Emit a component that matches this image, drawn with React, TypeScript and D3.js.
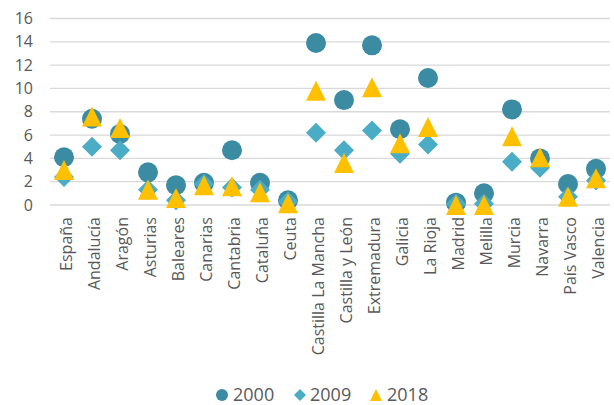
import React from 'react';
import { scaleBand, scaleLinear } from 'd3';

const categories = [
  'España', 'Andalucía', 'Aragón', 'Asturias', 'Baleares', 'Canarias', 'Cantabria',
  'Cataluña', 'Ceuta', 'Castilla La Mancha', 'Castilla y León', 'Extremadura', 'Galicia',
  'La Rioja', 'Madrid', 'Melilla', 'Murcia', 'Navarra', 'País Vasco', 'Valencia',
];

const values2000 = [4.1, 7.4, 6.1, 2.8, 1.7, 1.9, 4.7, 1.9, 0.4, 13.9, 9.0, 13.7, 6.5, 10.9, 0.2, 1.0, 8.2, 4.0, 1.8, 3.1];
const values2009 = [2.4, 5.0, 4.7, 1.3, 0.4, 1.8, 1.5, 1.3, 0.3, 6.2, 4.7, 6.4, 4.4, 5.2, 0.1, 0.1, 3.7, 3.2, 0.7, 2.1];
const values2018 = [3.0, 7.6, 6.6, 1.3, 0.6, 1.7, 1.6, 1.1, 0.15, 9.8, 3.6, 10.1, 5.3, 6.7, 0.0, 0.0, 5.9, 4.1, 0.7, 2.3];

const yTicks = [0, 2, 4, 6, 8, 10, 12, 14, 16];

const seriesNames = ['2000', '2009', '2018'];
const seriesColors = ['#3B8BA3', '#4BACC6', '#FFC000'];

const font = '"Open Sans", sans-serif';
const textColor = '#595959';

const x = scaleBand<string>().domain(categories).range([50, 610]);
const y = scaleLinear().domain([0, 16]).range([205, 18.5]);

// marker shapes, s = half size
const triangle = (s: number) => `M0,${-s}L${s},${s}L${-s},${s}Z`;
const diamond = (s: number) => `M0,${-s}L${s},0L0,${s}L${-s},0Z`;

const markers = [
  (s: number) => <circle r={s} />,
  (s: number) => <path d={diamond(s)} />,
  (s: number) => <path d={triangle(s)} />,
];

const App = () => {
  const cx = (c: string) => (x(c) as number) + x.bandwidth() / 2;
  const series = [values2000, values2009, values2018];
  const legend = [
    { mx: 222, tx: 233 },
    { mx: 300, tx: 310 },
    { mx: 376, tx: 387 },
  ];

  return (
    <svg width={614} height={405} style={{ position: 'absolute', left: 0, top: 0 }} fontFamily={font}>
      <rect width={614} height={405} fill="#fff" />
      {yTicks.map((t) => (
        <g key={t}>
          <line x1={50} x2={610} y1={y(t)} y2={y(t)} stroke="#d9d9d9" strokeWidth={1.3} />
          <text x={33} y={y(t)} dy="0.35em" textAnchor="end" fontSize={16} fill={textColor}>{t}</text>
        </g>
      ))}
      {categories.map((c) => (
        <text key={c} transform={`translate(${cx(c)},217) rotate(-90)`} dy="0.5em" textAnchor="end" fontSize={16} fill={textColor}>{c}</text>
      ))}
      {series.map((vals, si) => (
        <g key={si} fill={seriesColors[si]}>
          {vals.map((v, i) => (
            <g key={i} transform={`translate(${cx(categories[i])},${y(v)})`}>
              {markers[si](10)}
            </g>
          ))}
        </g>
      ))}
      {seriesNames.map((n, i) => (
        <g key={n}>
          <g transform={`translate(${legend[i].mx},395)`} fill={seriesColors[i]}>
            {markers[i](6)}
          </g>
          <text x={legend[i].tx} y={401} fontSize={18} fill={textColor}>{n}</text>
        </g>
      ))}
    </svg>
  );
};

export default App;
